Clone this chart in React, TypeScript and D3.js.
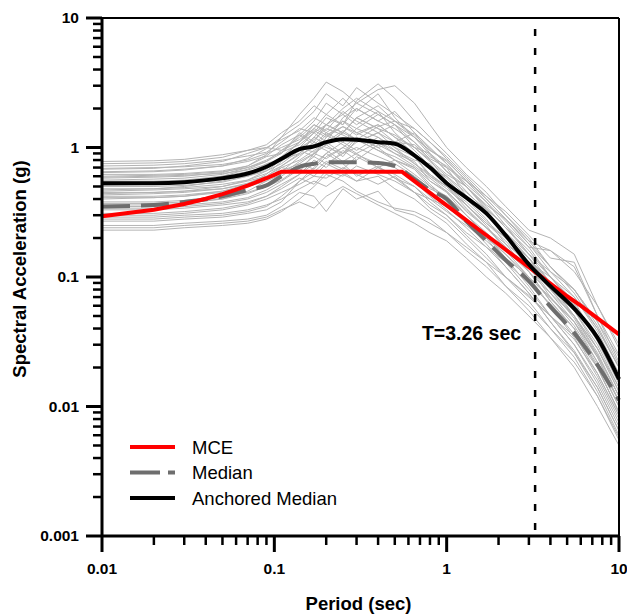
import React, { useRef, useEffect } from 'react';
import * as d3 from 'd3';

// periods (sec) shared by every spectrum
const periods = [0.01, 0.02, 0.03, 0.05, 0.07, 0.09, 0.11, 0.14, 0.17, 0.2, 0.25, 0.3, 0.4, 0.5, 0.65, 0.8, 1.0, 1.3, 1.7, 2.2, 3.0, 4.0, 5.5, 7.5, 10];

const median = [0.35, 0.36, 0.38, 0.42, 0.47, 0.51, 0.6, 0.71, 0.75, 0.77, 0.77, 0.77, 0.76, 0.72, 0.57, 0.47, 0.4, 0.27, 0.19, 0.135, 0.093, 0.059, 0.037, 0.021, 0.0112];
const anchoredMedian = [0.53, 0.53, 0.54, 0.58, 0.63, 0.71, 0.82, 0.97, 1.02, 1.1, 1.16, 1.15, 1.1, 1.07, 0.87, 0.7, 0.53, 0.41, 0.31, 0.21, 0.125, 0.085, 0.057, 0.034, 0.0163];

// MCE target spectrum
const mcePeriods = [0.01, 0.02, 0.03, 0.04, 0.05, 0.06, 0.07, 0.08, 0.09, 0.1, 0.11, 0.55, 0.6, 0.7, 0.8, 1, 1.5, 2, 3, 4, 5, 6, 8, 10];
const mceValues = [0.295, 0.331, 0.366, 0.402, 0.437, 0.473, 0.508, 0.544, 0.579, 0.615, 0.65, 0.65, 0.595, 0.51, 0.446, 0.357, 0.238, 0.179, 0.119, 0.089, 0.071, 0.06, 0.045, 0.036];

// individual ground motion spectra
const records = [
  [0.78, 0.79, 0.81, 0.88, 0.95, 1.05, 1.3, 1.6, 2.1, 1.8, 2.4, 1.9, 2.6, 1.7, 1.2, 0.95, 0.8, 0.55, 0.38, 0.25, 0.15, 0.09, 0.05, 0.025, 0.012],
  [0.72, 0.73, 0.75, 0.8, 0.86, 0.92, 1.1, 1.4, 1.3, 1.7, 1.5, 2.0, 1.6, 1.4, 1.1, 0.8, 0.62, 0.5, 0.33, 0.2, 0.12, 0.075, 0.045, 0.022, 0.011],
  [0.68, 0.69, 0.72, 0.78, 0.9, 1.0, 0.95, 1.2, 1.5, 1.35, 1.9, 1.6, 1.3, 1.5, 1.0, 0.9, 0.7, 0.42, 0.3, 0.22, 0.14, 0.08, 0.05, 0.028, 0.014],
  [0.65, 0.66, 0.68, 0.72, 0.78, 0.86, 1.05, 1.25, 1.6, 2.2, 1.8, 1.5, 1.9, 1.3, 0.95, 0.72, 0.58, 0.4, 0.28, 0.18, 0.11, 0.065, 0.04, 0.02, 0.009],
  [0.62, 0.62, 0.63, 0.66, 0.72, 0.85, 0.9, 1.3, 1.1, 1.5, 1.3, 1.7, 1.4, 1.1, 1.3, 0.9, 0.65, 0.5, 0.36, 0.28, 0.18, 0.11, 0.07, 0.038, 0.018],
  [0.6, 0.61, 0.62, 0.65, 0.7, 0.78, 0.95, 1.1, 1.35, 1.2, 1.6, 1.3, 1.1, 0.95, 0.8, 0.75, 0.55, 0.36, 0.25, 0.16, 0.1, 0.06, 0.034, 0.017, 0.008],
  [0.58, 0.59, 0.6, 0.64, 0.72, 0.88, 1.2, 1.5, 1.9, 2.6, 2.1, 2.9, 2.2, 1.8, 1.4, 1.1, 0.85, 0.6, 0.42, 0.3, 0.2, 0.12, 0.08, 0.045, 0.024],
  [0.55, 0.55, 0.56, 0.6, 0.65, 0.7, 0.85, 1.0, 1.15, 1.4, 1.25, 1.1, 1.3, 1.0, 0.85, 0.6, 0.48, 0.36, 0.26, 0.19, 0.12, 0.07, 0.042, 0.022, 0.01],
  [0.52, 0.53, 0.55, 0.6, 0.68, 0.78, 0.9, 1.25, 1.05, 1.3, 1.6, 1.4, 1.8, 1.5, 1.1, 0.85, 0.72, 0.5, 0.34, 0.24, 0.16, 0.1, 0.06, 0.032, 0.015],
  [0.5, 0.5, 0.51, 0.54, 0.6, 0.66, 0.75, 0.95, 1.2, 1.05, 1.3, 1.15, 0.95, 0.85, 0.7, 0.55, 0.45, 0.3, 0.21, 0.14, 0.085, 0.05, 0.03, 0.015, 0.007],
  [0.48, 0.48, 0.5, 0.55, 0.62, 0.75, 0.82, 1.1, 1.4, 1.8, 1.5, 2.3, 3.1, 2.4, 1.6, 1.2, 0.9, 0.62, 0.45, 0.3, 0.19, 0.12, 0.075, 0.04, 0.02],
  [0.46, 0.47, 0.48, 0.5, 0.55, 0.6, 0.7, 0.8, 0.95, 1.1, 0.9, 1.2, 1.0, 0.8, 0.62, 0.5, 0.38, 0.28, 0.2, 0.13, 0.08, 0.05, 0.03, 0.016, 0.0075],
  [0.44, 0.45, 0.46, 0.5, 0.56, 0.66, 0.8, 0.95, 0.85, 1.2, 1.45, 1.25, 1.5, 1.2, 0.9, 0.68, 0.6, 0.45, 0.33, 0.25, 0.17, 0.16, 0.12, 0.05, 0.022],
  [0.42, 0.42, 0.43, 0.46, 0.5, 0.55, 0.62, 0.78, 0.9, 0.82, 1.0, 0.88, 0.75, 0.7, 0.55, 0.42, 0.33, 0.24, 0.17, 0.12, 0.075, 0.045, 0.026, 0.013, 0.006],
  [0.4, 0.41, 0.42, 0.46, 0.52, 0.62, 0.78, 1.0, 1.3, 1.1, 1.7, 2.0, 1.6, 1.9, 1.3, 1.0, 0.75, 0.52, 0.38, 0.27, 0.17, 0.1, 0.062, 0.034, 0.016],
  [0.38, 0.38, 0.39, 0.41, 0.45, 0.5, 0.56, 0.7, 0.85, 0.75, 0.9, 1.0, 0.85, 0.75, 0.6, 0.48, 0.42, 0.3, 0.22, 0.16, 0.11, 0.075, 0.05, 0.028, 0.013],
  [0.36, 0.36, 0.37, 0.4, 0.46, 0.55, 0.7, 0.65, 0.9, 1.05, 0.85, 1.15, 0.95, 0.8, 0.7, 0.52, 0.4, 0.26, 0.18, 0.12, 0.075, 0.045, 0.027, 0.014, 0.0065],
  [0.34, 0.34, 0.35, 0.37, 0.4, 0.45, 0.52, 0.62, 0.75, 0.9, 1.1, 0.95, 1.2, 0.95, 0.75, 0.62, 0.5, 0.36, 0.26, 0.2, 0.14, 0.09, 0.06, 0.035, 0.017],
  [0.33, 0.33, 0.34, 0.36, 0.38, 0.42, 0.48, 0.58, 0.52, 0.66, 0.6, 0.72, 0.62, 0.55, 0.45, 0.36, 0.3, 0.21, 0.15, 0.1, 0.065, 0.04, 0.024, 0.012, 0.0055],
  [0.31, 0.31, 0.32, 0.34, 0.37, 0.42, 0.5, 0.62, 0.8, 0.7, 0.95, 0.8, 1.05, 0.9, 0.78, 0.55, 0.46, 0.32, 0.24, 0.17, 0.12, 0.08, 0.055, 0.03, 0.014],
  [0.3, 0.3, 0.31, 0.33, 0.36, 0.4, 0.45, 0.52, 0.6, 0.58, 0.7, 0.62, 0.52, 0.6, 0.45, 0.34, 0.28, 0.2, 0.14, 0.1, 0.07, 0.05, 0.035, 0.02, 0.009],
  [0.29, 0.29, 0.3, 0.31, 0.33, 0.36, 0.4, 0.48, 0.55, 0.5, 0.62, 0.55, 0.6, 0.48, 0.4, 0.32, 0.26, 0.18, 0.13, 0.085, 0.055, 0.034, 0.02, 0.01, 0.005],
  [0.27, 0.27, 0.28, 0.29, 0.31, 0.33, 0.38, 0.55, 0.7, 0.9, 0.75, 0.6, 0.72, 0.58, 0.45, 0.4, 0.32, 0.25, 0.19, 0.14, 0.1, 0.07, 0.045, 0.025, 0.012],
  [0.25, 0.25, 0.26, 0.27, 0.28, 0.3, 0.35, 0.45, 0.42, 0.32, 0.48, 0.4, 0.46, 0.33, 0.3, 0.26, 0.22, 0.16, 0.12, 0.085, 0.06, 0.04, 0.026, 0.014, 0.0065],
  [0.23, 0.23, 0.24, 0.25, 0.26, 0.28, 0.32, 0.4, 0.5, 0.62, 0.55, 0.46, 0.38, 0.34, 0.32, 0.28, 0.22, 0.17, 0.13, 0.1, 0.072, 0.05, 0.033, 0.018, 0.0085],
  [0.64, 0.65, 0.67, 0.72, 0.82, 0.98, 1.2, 1.8, 2.4, 3.2, 2.7, 2.2, 1.8, 1.5, 1.2, 0.88, 0.66, 0.46, 0.32, 0.22, 0.14, 0.085, 0.05, 0.026, 0.012],
  [0.56, 0.57, 0.58, 0.62, 0.7, 0.8, 0.92, 1.05, 1.3, 1.5, 1.8, 2.2, 2.8, 3.0, 2.2, 1.5, 1.0, 0.7, 0.5, 0.35, 0.23, 0.2, 0.15, 0.06, 0.028],
  [0.47, 0.48, 0.49, 0.52, 0.56, 0.63, 0.72, 0.9, 1.1, 1.0, 0.9, 1.1, 1.3, 1.1, 1.05, 0.82, 0.7, 0.55, 0.42, 0.32, 0.21, 0.14, 0.13, 0.05, 0.025],
  [0.43, 0.44, 0.45, 0.48, 0.53, 0.6, 0.72, 0.88, 1.0, 1.25, 1.05, 0.9, 1.1, 0.9, 0.72, 0.58, 0.46, 0.33, 0.24, 0.18, 0.13, 0.1, 0.07, 0.04, 0.02],
  [0.37, 0.37, 0.38, 0.4, 0.44, 0.5, 0.6, 0.75, 0.68, 0.85, 1.0, 1.2, 1.0, 1.1, 0.85, 0.62, 0.5, 0.34, 0.24, 0.17, 0.11, 0.065, 0.04, 0.02, 0.009],
  [0.69, 0.7, 0.71, 0.74, 0.8, 0.9, 1.0, 1.15, 1.4, 1.25, 1.45, 1.3, 1.5, 1.2, 1.0, 0.78, 0.6, 0.42, 0.3, 0.21, 0.13, 0.08, 0.048, 0.024, 0.011],
  [0.53, 0.54, 0.55, 0.58, 0.63, 0.7, 0.8, 0.9, 1.2, 1.5, 1.3, 1.7, 1.4, 1.25, 1.0, 0.8, 0.55, 0.4, 0.3, 0.22, 0.15, 0.11, 0.08, 0.045, 0.021],
  [0.75, 0.76, 0.78, 0.84, 0.95, 1.0, 1.15, 1.35, 1.7, 1.5, 2.0, 2.4, 1.9, 1.6, 1.25, 0.98, 0.75, 0.5, 0.35, 0.24, 0.15, 0.1, 0.065, 0.032, 0.015],
  [0.59, 0.6, 0.61, 0.63, 0.67, 0.74, 0.8, 1.0, 0.92, 1.1, 1.35, 1.15, 1.45, 1.6, 1.2, 0.95, 0.78, 0.56, 0.4, 0.28, 0.19, 0.16, 0.11, 0.06, 0.03],
  [0.51, 0.52, 0.53, 0.56, 0.6, 0.68, 0.85, 1.1, 1.5, 1.3, 1.1, 1.4, 1.2, 1.0, 0.75, 0.6, 0.5, 0.38, 0.27, 0.2, 0.14, 0.09, 0.055, 0.028, 0.013],
  [0.45, 0.45, 0.46, 0.48, 0.52, 0.58, 0.66, 0.75, 0.9, 1.05, 1.3, 1.7, 2.1, 1.6, 1.4, 1.1, 0.82, 0.58, 0.4, 0.28, 0.18, 0.12, 0.08, 0.042, 0.02],
  [0.41, 0.41, 0.42, 0.45, 0.5, 0.57, 0.65, 0.85, 1.05, 0.95, 0.78, 0.9, 0.7, 0.62, 0.5, 0.4, 0.35, 0.26, 0.2, 0.15, 0.1, 0.068, 0.045, 0.024, 0.011],
  [0.35, 0.35, 0.36, 0.38, 0.41, 0.47, 0.55, 0.68, 0.6, 0.75, 0.65, 0.55, 0.7, 0.8, 0.68, 0.5, 0.42, 0.3, 0.21, 0.15, 0.095, 0.06, 0.036, 0.018, 0.0085],
  [0.28, 0.28, 0.29, 0.3, 0.32, 0.35, 0.42, 0.55, 0.65, 0.78, 0.68, 0.85, 0.7, 0.58, 0.5, 0.38, 0.3, 0.22, 0.17, 0.13, 0.09, 0.062, 0.04, 0.021, 0.01],
  [0.24, 0.24, 0.25, 0.26, 0.27, 0.29, 0.33, 0.38, 0.34, 0.42, 0.5, 0.44, 0.36, 0.31, 0.26, 0.22, 0.19, 0.14, 0.1, 0.075, 0.05, 0.034, 0.022, 0.012, 0.0058],
];

const xMajor = [0.01, 0.1, 1, 10];
const yMajor = [0.001, 0.01, 0.1, 1, 10];
const anchorPeriod = 3.26;

const App = () => {
  const svgRef = useRef<SVGSVGElement>(null);

  useEffect(() => {
    if (!svgRef.current) return;
    const root = d3.select(svgRef.current);
    root.selectAll('*').remove();

    const width = 627;
    const height = 615;
    const margin = { top: 18, right: 8, bottom: 79, left: 102 };
    const innerW = width - margin.left - margin.right;
    const innerH = height - margin.top - margin.bottom;
    const font = 'Arial, "Liberation Sans", sans-serif';

    const x = d3.scaleLog().domain([0.01, 10]).range([0, innerW]);
    const y = d3.scaleLog().domain([0.001, 10]).range([innerH, 0]);

    const svg = root.append('g').attr('transform', `translate(${margin.left},${margin.top})`);

    const line = d3.line<[number, number]>()
      .x(d => x(d[0]))
      .y(d => y(d[1]));
    const smooth = d3.line<[number, number]>()
      .x(d => x(d[0]))
      .y(d => y(d[1]))
      .curve(d3.curveMonotoneX);

    // grey records
    svg.append('g')
      .selectAll('path')
      .data(records)
      .enter()
      .append('path')
      .attr('d', r => line(periods.map((p, i) => [p, r[i]] as [number, number])))
      .attr('fill', 'none')
      .attr('stroke', '#b4b4b4')
      .attr('stroke-width', 1);

    // median
    svg.append('path')
      .attr('d', smooth(periods.map((p, i) => [p, median[i]] as [number, number])))
      .attr('fill', 'none')
      .attr('stroke', '#6e6e6e')
      .attr('stroke-width', 4)
      .attr('stroke-dasharray', '28 11');

    // MCE
    svg.append('path')
      .attr('d', line(mcePeriods.map((p, i) => [p, mceValues[i]] as [number, number])))
      .attr('fill', 'none')
      .attr('stroke', '#ff0000')
      .attr('stroke-width', 4);

    // anchored median
    svg.append('path')
      .attr('d', smooth(periods.map((p, i) => [p, anchoredMedian[i]] as [number, number])))
      .attr('fill', 'none')
      .attr('stroke', '#000')
      .attr('stroke-width', 4);

    // anchor period line
    svg.append('line')
      .attr('x1', x(anchorPeriod)).attr('x2', x(anchorPeriod))
      .attr('y1', 11).attr('y2', innerH)
      .attr('stroke', '#000')
      .attr('stroke-width', 2.5)
      .attr('stroke-dasharray', '7 12');

    svg.append('text')
      .attr('x', x(anchorPeriod) - 14)
      .attr('y', 322)
      .attr('text-anchor', 'end')
      .style('font-family', font)
      .style('font-weight', 'bold')
      .style('font-size', '19.5px')
      .text(`T=${anchorPeriod} sec`);

    // frame
    svg.append('line').attr('x1', 0).attr('x2', innerW).attr('y1', 0).attr('y2', 0)
      .attr('stroke', '#000').attr('stroke-width', 2);
    svg.append('line').attr('x1', innerW).attr('x2', innerW).attr('y1', 0).attr('y2', innerH)
      .attr('stroke', '#000').attr('stroke-width', 2);
    svg.append('line').attr('x1', 0).attr('x2', 0).attr('y1', -1).attr('y2', innerH + 1)
      .attr('stroke', '#000').attr('stroke-width', 3);
    svg.append('line').attr('x1', -1).attr('x2', innerW + 1).attr('y1', innerH).attr('y2', innerH)
      .attr('stroke', '#000').attr('stroke-width', 3);

    // ticks
    const minor = (lo: number, hi: number) => {
      const out: number[] = [];
      for (let d = lo; d < hi; d *= 10) {
        for (let k = 2; k <= 9; k++) out.push(d * k);
      }
      return out;
    };

    const xTicks = svg.append('g');
    xTicks.selectAll('.xmin').data(minor(0.01, 10)).enter().append('line')
      .attr('x1', d => x(d)).attr('x2', d => x(d))
      .attr('y1', innerH).attr('y2', innerH + 9)
      .attr('stroke', '#000').attr('stroke-width', 2.5);
    xTicks.selectAll('.xmaj').data(xMajor).enter().append('line')
      .attr('x1', d => x(d)).attr('x2', d => x(d))
      .attr('y1', innerH).attr('y2', innerH + 16)
      .attr('stroke', '#000').attr('stroke-width', 3);
    xTicks.selectAll('text').data(xMajor).enter().append('text')
      .attr('x', d => x(d))
      .attr('y', innerH + 38)
      .attr('text-anchor', 'middle')
      .style('font-family', font)
      .style('font-weight', 'bold')
      .style('font-size', '15.5px')
      .text(d => `${d}`);

    const yTicks = svg.append('g');
    yTicks.selectAll('.ymin').data(minor(0.001, 10)).enter().append('line')
      .attr('x1', 0).attr('x2', -9)
      .attr('y1', d => y(d)).attr('y2', d => y(d))
      .attr('stroke', '#000').attr('stroke-width', 2.5);
    yTicks.selectAll('.ymaj').data(yMajor).enter().append('line')
      .attr('x1', 0).attr('x2', -16)
      .attr('y1', d => y(d)).attr('y2', d => y(d))
      .attr('stroke', '#000').attr('stroke-width', 3);
    yTicks.selectAll('text').data(yMajor).enter().append('text')
      .attr('x', -23)
      .attr('y', d => y(d))
      .attr('dy', '0.35em')
      .attr('text-anchor', 'end')
      .style('font-family', font)
      .style('font-weight', 'bold')
      .style('font-size', '15.5px')
      .text(d => `${d}`);

    // axis titles
    svg.append('text')
      .attr('x', innerW / 2 - 2)
      .attr('y', innerH + 74)
      .attr('text-anchor', 'middle')
      .style('font-family', font)
      .style('font-weight', 'bold')
      .style('font-size', '18.5px')
      .text('Period (sec)');

    svg.append('text')
      .attr('transform', `translate(-76, ${innerH / 2 - 8}) rotate(-90)`)
      .attr('text-anchor', 'middle')
      .style('font-family', font)
      .style('font-weight', 'bold')
      .style('font-size', '18.5px')
      .text('Spectral Acceleration (g)');

    // legend
    const legendItems = [
      { name: 'MCE', color: '#ff0000', dash: null },
      { name: 'Median', color: '#6e6e6e', dash: '30 8' },
      { name: 'Anchored Median', color: '#000', dash: null },
    ];
    const legend = svg.append('g').attr('transform', 'translate(28, 429)');
    const item = legend.selectAll('.legend').data(legendItems).enter().append('g')
      .attr('transform', (d, i) => `translate(0, ${i * 25.5})`);
    item.append('line')
      .attr('x1', 0).attr('x2', 45).attr('y1', 0).attr('y2', 0)
      .attr('stroke', d => d.color)
      .attr('stroke-width', 4)
      .attr('stroke-dasharray', d => d.dash);
    item.append('text')
      .attr('x', 62)
      .attr('y', 0)
      .attr('dy', '0.36em')
      .style('font-family', font)
      .style('font-size', '18.5px')
      .text(d => d.name);
  }, []);

  return (
    <div>
      <svg ref={svgRef} width={627} height={615} style={{ position: 'absolute', left: 0, top: 0, background: '#fff' }} />
    </div>
  );
};

export default App;
